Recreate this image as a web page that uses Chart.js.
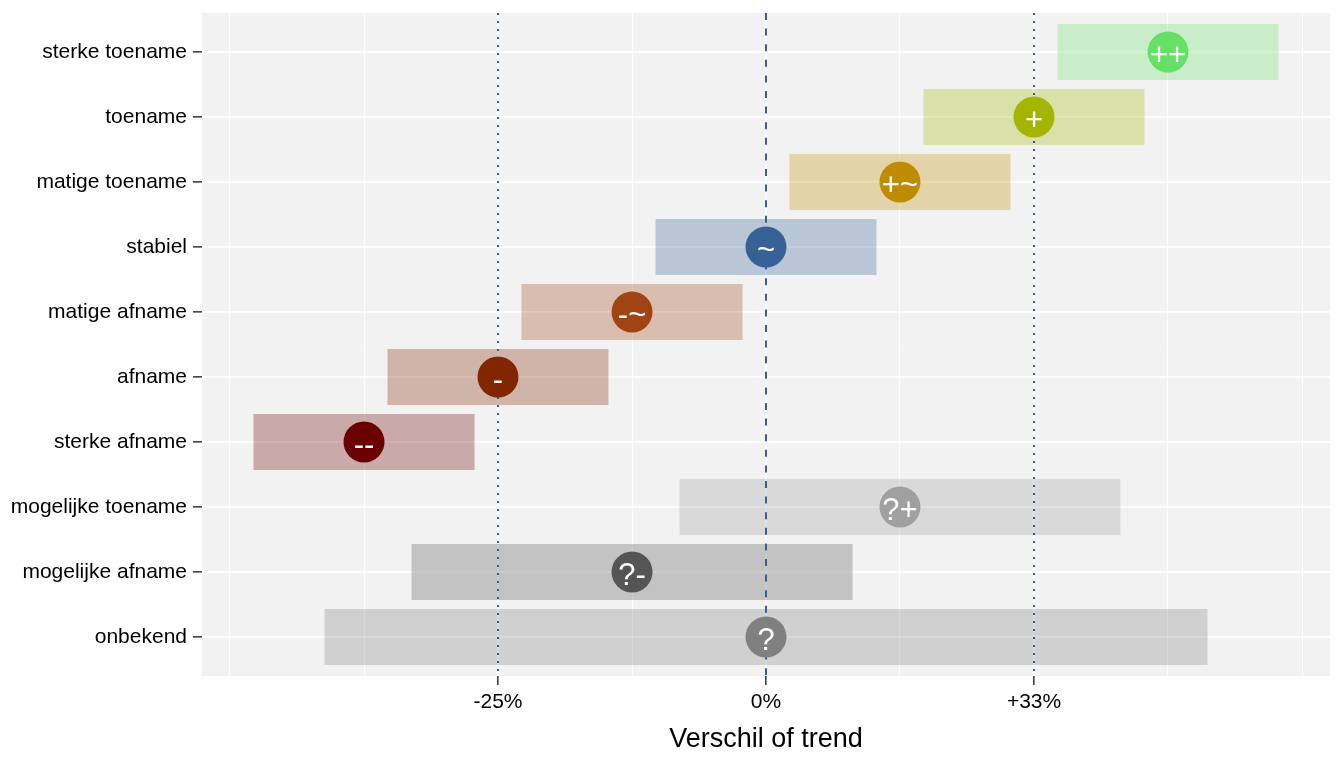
<!DOCTYPE html>
<html>
<head>
<meta charset="utf-8">
<script src="https://cdn.jsdelivr.net/npm/chart.js"></script>
<style>
  html, body { margin: 0; padding: 0; background: #ffffff; }
  #wrap { width: 1344px; height: 768px; }
</style>
</head>
<body>
<div id="wrap"><canvas id="trendChart" width="1344" height="768"></canvas></div>
<script>
// categories from top to bottom
const categories = ['sterke toename', 'toename', 'matige toename', 'stabiel', 'matige afname',
                    'afname', 'sterke afname', 'mogelijke toename', 'mogelijke afname', 'onbekend'];
const symbols = ['++', '+', '+~', '~', '-~', '-', '--', '?+', '?-', '?'];

// values are log ratios (ln of index)
const pointX = [0.4315, 0.2877, 0.1438, 0, -0.1438, -0.2877, -0.4315, 0.1438, -0.1438, 0];
const barLow = [0.3129, 0.1691, 0.0252, -0.1186, -0.2624, -0.4063, -0.5501, -0.0929, -0.3805, -0.4739];
const barHigh = [0.5501, 0.4063, 0.2624, 0.1186, -0.0252, -0.1691, -0.3129, 0.3805, 0.0929, 0.4739];

const pointColors = ['#66E066', '#A3B500', '#BF8C00', '#356196', '#A04414',
                     '#802600', '#6B0000', '#A0A0A0', '#555555', '#808080'];

const xTickValues = [-0.2877, 0, 0.2877];
const xTickLabels = ['-25%', '0%', '+33%'];
const xGridValues = [-0.5754, -0.4315, -0.2877, -0.1438, 0, 0.1438, 0.2877, 0.4315, 0.5754];
const refLines = [-0.2877, 0, 0.2877];

function hexToRgba(hex, a) {
    const n = parseInt(hex.slice(1), 16);
    return `rgba(${(n >> 16) & 255}, ${(n >> 8) & 255}, ${n & 255}, ${a})`;
}

function majorIndex(v) {
    return xTickValues.findIndex(t => Math.abs(t - v) < 1e-3);
}

Chart.defaults.font.family = '"Liberation Sans", Arial, sans-serif';

const panelBackground = {
    id: 'panelBackground',
    beforeDraw(chart) {
        const { ctx, chartArea: a } = chart;
        ctx.save();
        ctx.fillStyle = '#F2F2F2';
        ctx.fillRect(a.left, a.top, a.right - a.left, a.bottom - a.top);
        ctx.restore();
    }
};

const referenceLines = {
    id: 'referenceLines',
    afterDatasetDraw(chart, args) {
        if (args.meta.type !== 'bar') return;
        const { ctx, chartArea: a, scales: { x } } = chart;
        ctx.save();
        ctx.lineWidth = 2;
        refLines.forEach(v => {
            const px = Math.round(x.getPixelForValue(v));
            ctx.strokeStyle = v === 0 ? '#34609A' : '#36598A';
            ctx.setLineDash(v === 0 ? [7, 8.6] : [2, 6]);
            ctx.beginPath();
            ctx.moveTo(px, a.top);
            ctx.lineTo(px, a.bottom);
            ctx.stroke();
        });
        ctx.restore();
    }
};

const pointLabels = {
    id: 'pointLabels',
    afterDatasetsDraw(chart) {
        const { ctx } = chart;
        const meta = chart.getDatasetMeta(1);
        ctx.save();
        ctx.fillStyle = '#FFFFFF';
        ctx.font = '31px "Liberation Sans", Arial, sans-serif';
        ctx.textAlign = 'center';
        ctx.textBaseline = 'alphabetic';
        meta.data.forEach((pt, i) => {
            ctx.fillText(symbols[i], pt.x, pt.y + 12.5);
        });
        ctx.restore();
    }
};

const ctx = document.getElementById('trendChart').getContext('2d');

const trendChart = new Chart(ctx, {
    type: 'bar',
    data: {
        datasets: [{
            type: 'bar',
            data: categories.map((c, i) => ({ y: i, x: [barLow[i], barHigh[i]] })),
            backgroundColor: pointColors.map(c => hexToRgba(c, 0.3)),
            borderWidth: 0,
            categoryPercentage: 1,
            barPercentage: 0.86,
            order: 1
        }, {
            type: 'scatter',
            data: categories.map((c, i) => ({ x: pointX[i], y: i })),
            pointRadius: 20.5,
            pointBackgroundColor: pointColors,
            pointBorderWidth: 0,
            order: 0
        }]
    },
    options: {
        indexAxis: 'y',
        responsive: false,
        animation: false,
        events: [],
        layout: { autoPadding: false, padding: { top: 13, right: 14, left: 0, bottom: 0 } },
        plugins: {
            legend: { display: false },
            tooltip: { enabled: false }
        },
        scales: {
            x: {
                type: 'linear',
                offset: false,
                min: -0.6054,
                max: 0.6054,
                afterBuildTicks: s => { s.ticks = xGridValues.map(v => ({ value: v })); },
                afterFit: s => {
                    s.height = 92;
                    s.paddingLeft = 0;
                    s.paddingRight = 0;
                },
                grid: {
                    offset: false,
                    color: '#FFFFFF',
                    lineWidth: c => (c.tick && majorIndex(c.tick.value) >= 0 ? 1.7 : 1),
                    tickLength: 9,
                    tickWidth: 1.5,
                    tickColor: c => (c.tick && majorIndex(c.tick.value) >= 0 ? '#333333' : 'rgba(0,0,0,0)')
                },
                border: { display: false },
                ticks: {
                    autoSkip: false,
                    maxRotation: 0,
                    padding: 5,
                    color: '#000000',
                    font: { size: 21 },
                    callback: v => {
                        const i = majorIndex(v);
                        return i >= 0 ? xTickLabels[i] : '';
                    }
                },
                title: {
                    display: true,
                    text: 'Verschil of trend',
                    color: '#000000',
                    font: { size: 27 },
                    padding: { top: 0, bottom: 12 }
                }
            },
            y: {
                type: 'linear',
                offset: false,
                min: -0.6,
                max: 9.6,
                reverse: true,
                afterBuildTicks: s => { s.ticks = categories.map((c, i) => ({ value: i })); },
                afterFit: s => {
                    s.width = 202;
                    s.paddingTop = 0;
                    s.paddingBottom = 0;
                },
                grid: {
                    offset: false,
                    color: '#FFFFFF',
                    lineWidth: 1.7,
                    tickLength: 9,
                    tickWidth: 1.5,
                    tickColor: '#333333'
                },
                border: { display: false },
                ticks: {
                    autoSkip: false,
                    padding: 6,
                    color: '#000000',
                    font: { size: 21 },
                    callback: v => categories[v]
                }
            }
        }
    },
    plugins: [panelBackground, referenceLines, pointLabels]
});
</script>
</body>
</html>
